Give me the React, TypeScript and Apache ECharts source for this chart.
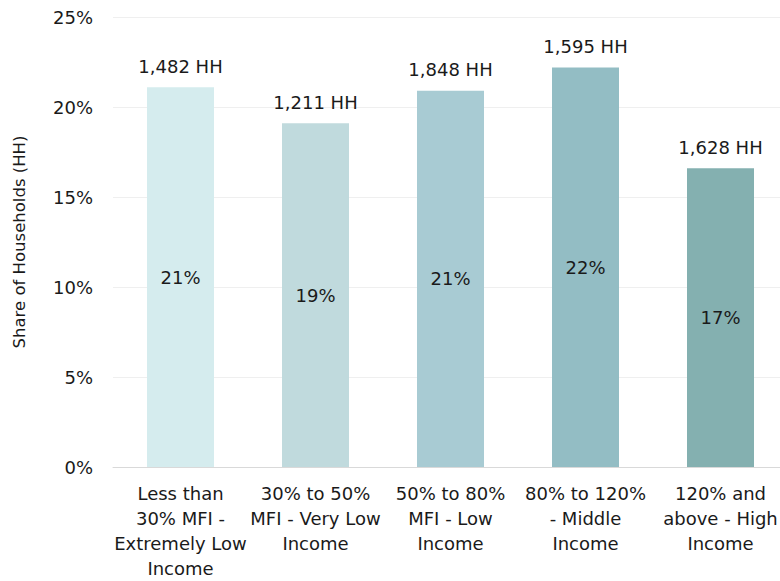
import React, { useEffect, useRef } from "react";
import * as echarts from "echarts";

const categories = [
  "Less than\n30% MFI -\nExtremely Low\nIncome",
  "30% to 50%\nMFI - Very Low\nIncome",
  "50% to 80%\nMFI - Low\nIncome",
  "80% to 120%\n- Middle\nIncome",
  "120% and\nabove - High\nIncome",
];
const shares = [21.1, 19.1, 20.9, 22.2, 16.6];
const shareLabels = ["21%", "19%", "21%", "22%", "17%"];
const households = ["1,482 HH", "1,211 HH", "1,848 HH", "1,595 HH", "1,628 HH"];
const barColors = ["#d5ecee", "#c0dadd", "#a8cbd3", "#93bdc4", "#84b0b0"];
const yTicks = [0, 5, 10, 15, 20, 25];

const FONT = "DejaVu Sans";

export default function App() {
  const ref = useRef<HTMLDivElement>(null);
  useEffect(() => {
    if (!ref.current) return;
    const chart = echarts.init(ref.current, null, { renderer: "svg" });
    chart.setOption({
      animation: false,
      textStyle: { fontFamily: FONT },
      grid: { left: 113, top: 17, width: 675, height: 450, containLabel: false },
      xAxis: {
        type: "category",
        data: categories,
        axisTick: { show: false },
        axisLine: { lineStyle: { color: "#d9d9d9", width: 1 } },
        axisLabel: {
          color: "#1a1a1a",
          fontFamily: FONT,
          fontSize: 18,
          lineHeight: 25,
          margin: 14,
          interval: 0,
        },
      },
      yAxis: {
        type: "value",
        min: yTicks[0],
        max: yTicks[yTicks.length - 1],
        interval: 5,
        name: "Share of Households (HH)",
        nameLocation: "middle",
        nameGap: 85,
        nameTextStyle: { color: "#1a1a1a", fontFamily: FONT, fontSize: 16.5 },
        axisLine: { show: false },
        axisTick: { show: false },
        splitLine: { lineStyle: { color: "#efefef", width: 1 } },
        axisLabel: {
          color: "#1a1a1a",
          fontFamily: FONT,
          fontSize: 18,
          margin: 20,
          formatter: (v: number) => `${v}%`,
        },
      },
      series: [
        {
          type: "bar",
          barWidth: 67,
          data: shares.map((v, i) => ({ value: v, itemStyle: { color: barColors[i] } })),
          label: {
            show: true,
            position: "inside",
            color: "#1a1a1a",
            fontFamily: FONT,
            fontSize: 18,
            formatter: (p: any) => shareLabels[p.dataIndex],
          },
        },
        {
          type: "bar",
          barWidth: 67,
          barGap: "-100%",
          silent: true,
          data: shares.map((v) => ({ value: v, itemStyle: { color: "rgba(0,0,0,0)" } })),
          label: {
            show: true,
            position: "top",
            distance: 12,
            color: "#1a1a1a",
            fontFamily: FONT,
            fontSize: 18,
            formatter: (p: any) => households[p.dataIndex],
          },
        },
      ],
    });
    return () => chart.dispose();
  }, []);
  return (
    <div
      style={{
        position: "fixed",
        left: 0,
        top: 0,
        width: 780,
        height: 581,
        overflow: "hidden",
        background: "#fff",
      }}
    >
      <div ref={ref} style={{ width: 800, height: 581 }} />
    </div>
  );
}
